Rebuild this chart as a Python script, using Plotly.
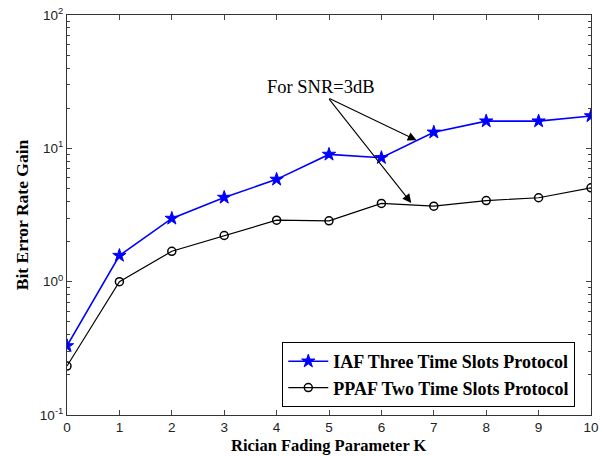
import plotly.graph_objects as go

K = [0, 1, 2, 3, 4, 5, 6, 7, 8, 9, 10]
iaf = [0.33, 1.57, 2.98, 4.28, 5.85, 9.0, 8.5, 13.2, 16.0, 16.0, 17.5]
ppaf = [0.233, 1.0, 1.69, 2.22, 2.89, 2.86, 3.86, 3.68, 4.06, 4.26, 5.06]
xtick_vals = list(range(0, 11))
ytick_vals = [0.1, 1, 10, 100]
ytick_text = ["10<sup>-1</sup>", "10<sup>0</sup>", "10<sup>1</sup>", "10<sup>2</sup>"]

fig = go.Figure()
fig.add_trace(go.Scatter(
    x=K, y=iaf, mode="lines+markers", name="<b>IAF Three Time Slots Protocol</b>",
    line=dict(color="#0000ff", width=1.6),
    marker=dict(symbol="star", size=10, color="#0000ff", line=dict(color="#0000ff", width=1))))
fig.add_trace(go.Scatter(
    x=K, y=ppaf, mode="lines+markers", name="<b>PPAF Two Time Slots Protocol</b>",
    line=dict(color="black", width=1.2),
    marker=dict(symbol="circle-open", size=8, color="black", line=dict(color="black", width=1.5))))

tickfont = dict(family="Liberation Sans, Arial", size=13.5, color="#222")
fig.update_layout(
    width=603, height=456,
    margin=dict(l=67, r=12, t=15, b=41),
    paper_bgcolor="white", plot_bgcolor="white",
    showlegend=True,
    legend=dict(x=0.97, y=0.02, xanchor="right", yanchor="bottom",
                bordercolor="black", borderwidth=1, bgcolor="white",
                font=dict(family="Liberation Serif", size=18, color="black"),
                tracegroupgap=0, itemwidth=40),
    xaxis=dict(range=[0, 10], tickvals=xtick_vals, ticks="inside", ticklen=5, mirror="ticks",
               showline=True, linecolor="#333", linewidth=1, showgrid=False, zeroline=False,
               tickfont=tickfont, ticklabeloverflow="allow", automargin=False),
    yaxis=dict(type="log", range=[-1, 2], tickvals=ytick_vals, ticktext=ytick_text,
               ticks="inside", ticklen=5, mirror="ticks", automargin=False,
               showline=True, linecolor="#333", linewidth=1, showgrid=False, zeroline=False,
               tickfont=tickfont, ticklabeloverflow="allow",
               minor=dict(ticks="inside", ticklen=3, dtick="D1", showgrid=False),
               title=dict(text="<b>Bit Error Rate Gain</b>", standoff=6,
                          font=dict(family="Liberation Serif", size=17.5, color="black"))),
)

# x-axis title as paper annotation
fig.add_annotation(x=0.5, y=-0.075, xref="paper", yref="paper", yanchor="middle",
                   text="<b>Rician Fading Parameter K</b>", showarrow=False,
                   font=dict(family="Liberation Serif", size=16.5, color="black"))

# annotation text and arrows
fig.add_annotation(x=4.85, y=1.46, xref="x", yref="y", text="For SNR=3dB", showarrow=False,
                   font=dict(family="Liberation Serif", size=18.5, color="black"))
for hx, hy in [(6.67, 1.06), (6.57, 0.59)]:
    fig.add_annotation(x=hx, y=hy, ax=4.98, ay=1.38, xref="x", yref="y", axref="x", ayref="y",
                       text="", showarrow=True, arrowhead=2, arrowsize=1.6, arrowwidth=1.1,
                       arrowcolor="black")

fig.write_html("out.html")
